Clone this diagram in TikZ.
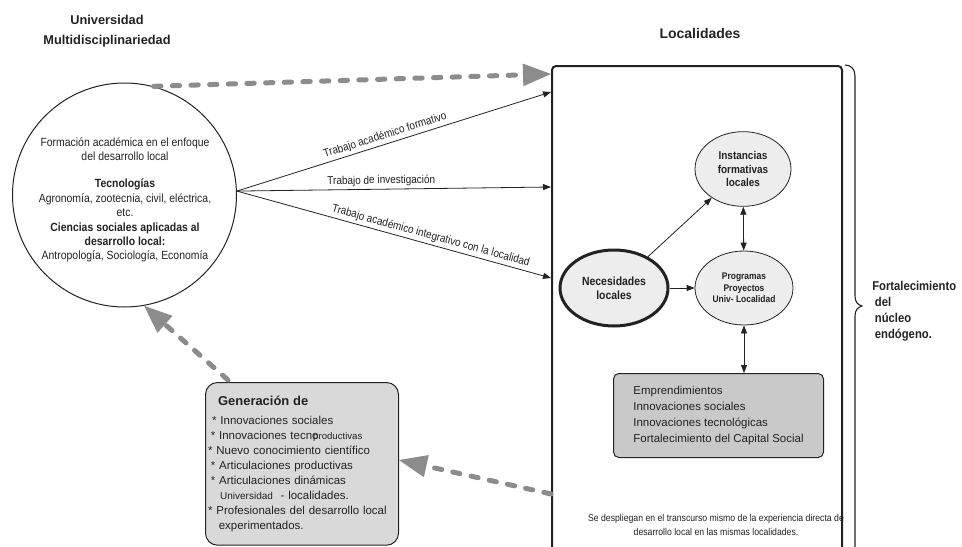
\documentclass[tikz,border=0pt]{standalone}
\usepackage{fontspec}
\setmainfont{Liberation Sans}
\newfontfamily\narrowsf[FakeStretch=0.88]{Liberation Sans}
\usetikzlibrary{arrows.meta,shapes.geometric,calc}
\definecolor{ink}{HTML}{222222}
\definecolor{dashgray}{HTML}{8C8C8C}
\definecolor{panelgray}{HTML}{C9C9C9}
\definecolor{softgray}{HTML}{D9D9D9}
\definecolor{bubble}{HTML}{EDEDED}
\newcommand{\fs}[2]{\fontsize{#1}{#2}\selectfont}

\begin{document}
\begin{tikzpicture}[x=0.75pt,y=-0.75pt,
  every node/.style={text=ink, inner sep=0pt},
  bigdash/.style={draw=dashgray, line width=3.75pt, line cap=round,
    dash pattern=on 5.5pt off 8.5pt,
    -{Triangle[length=21pt,width=17pt,line width=0pt,fill=dashgray]}},
  thinarrow/.style={draw=ink, line width=0.6pt, -{Triangle[length=6pt,width=4.5pt]}},
  twoway/.style={draw=ink, line width=0.6pt,
    {Triangle[length=6pt,width=4.5pt]}-{Triangle[length=6pt,width=4.5pt]}},
  bubblenode/.style={ellipse, draw=ink, fill=bubble, line width=0.6pt, align=center},
  edgelabel/.style={sloped, above=2pt, font=\narrowsf\fs{8.5}{10}},
]
\useasboundingbox (0,0) rectangle (962,546);

% titles
\node (titU) at (107,31) [align=center, font=\bfseries\fs{9.6}{15}] {Universidad\\Multidisciplinariedad};
\node (titL) at (700,33) [font=\bfseries\fs{10.5}{12}] {Localidades};

% university circle
\node (univ) at (124.5,195) [circle, draw=ink, line width=0.75pt, minimum size=168pt] {};
\node (univtxt) at (125,200) [align=center, font=\narrowsf\fs{8.9}{10.8}]
  {Formación académica en el enfoque\\ del desarrollo local\\[9.5pt]
   \textbf{Tecnologías}\\ Agronomía, zootecnia, civil, eléctrica,\\ etc.\\
   \textbf{Ciencias sociales aplicadas al}\\ \textbf{desarrollo local:}\\
   Antropología, Sociología, Economía};

% localities frame (runs past the lower edge)
\node (loc) at (551,65) [anchor=north west, draw=ink, line width=1.5pt, rounded corners=3pt,
  minimum width=217.5pt, minimum height=375pt] {};

% work flows from the university to the localities
\draw[thinarrow] (univ.2) -- ($(loc.north west)+(0,27)$)
  node[edgelabel, pos=0.48] {Trabajo académico formativo};
\draw[thinarrow] (univ.2) -- ($(loc.north west)+(0,122)$)
  node[edgelabel, pos=0.46] {Trabajo de investigación};
\draw[thinarrow] (univ.2) -- ($(loc.north west)+(0,213)$)
  node[edgelabel, pos=0.61] {Trabajo académico integrativo con la localidad};

% local nodes
\node (inst) at (743,169) [bubblenode, minimum width=72pt, minimum height=56pt,
  font=\narrowsf\bfseries\fs{8.5}{10.3}] {Instancias\\formativas\\locales};
\node (prog) at (744,288) [bubblenode, minimum width=73.5pt, minimum height=55.5pt,
  font=\narrowsf\bfseries\fs{7.2}{8.6}] {Programas\\Proyectos\\Univ- Localidad};
\node (nec) at (614,288) [bubblenode, line width=2.25pt, minimum width=81pt, minimum height=57pt,
  font=\narrowsf\bfseries\fs{8.9}{10.3}] {Necesidades\\locales};

\node (eff) at (613,373) [anchor=north west, draw=ink, line width=0.75pt, fill=panelgray,
  rounded corners=4pt, minimum width=157.5pt, minimum height=63pt,
  align=left, font=\fs{8.6}{12}]
  {Emprendimientos\\ Innovaciones sociales\\ Innovaciones tecnológicas\\ Fortalecimiento del Capital Social};

\draw[thinarrow] (nec) -- (inst);
\draw[thinarrow] (nec) -- (prog);
\draw[twoway] (inst) -- (prog);
\draw[twoway] (prog.south) -- (prog.south |- eff.north);

\node (note) at (716,525) [align=center, font=\narrowsf\fs{7.4}{10.5}]
  {Se despliegan en el transcurso mismo de la experiencia directa de\\
   desarrollo local en las mismas localidades.};

% results box
\node (gen) at (205,382) [anchor=north west, draw=ink, line width=0.75pt, fill=softgray,
  rounded corners=9pt, minimum height=122pt, text width=140.75pt, inner xsep=2pt,
  align=left, font=\fs{8.6}{11.25}]
  {\hspace*{7.5pt}{\bfseries\fs{9.7}{11.25}Generación de}\\[3.5pt]
   \hspace*{3pt}{*} Innovaciones sociales\\
   \hspace*{2pt}{*} Innovaciones tecno\hspace{-4pt}{\fs{7.2}{11.25}productivas}\\
   {*} Nuevo conocimiento científico\\
   \hspace*{2pt}{*} Articulaciones productivas\\
   \hspace*{2pt}{*} Articulaciones dinámicas\\
   \hspace*{9pt}{\fs{7.5}{11.25}Universidad} \ - localidades.\\
   {*} Profesionales del desarrollo local\\
   \hspace*{8pt}experimentados.};

% feedback loops
\draw[bigdash] (univ.75) -- ($(loc.north west)+(0,9)$);
\draw[bigdash] ($(gen.north west)+(23,-2)$) -- (univ.-80);
\draw[bigdash] ($(loc.north west)+(0,429)$) -- ($(gen.north east)+(0,78)$);

% brace and its label
\draw[ink, line width=0.8pt] (845,65) .. controls (851,65) and (855,69) .. (855,76)
  -- (855,296) .. controls (855,302) and (858,305) .. (862,306)
  .. controls (858,307) and (855,310) .. (855,316) -- (855,560);
\node (fort) at (872,281) [anchor=north west, align=left, font=\narrowsf\bfseries\fs{9.6}{12}]
  {Fortalecimiento\\ \hspace*{2pt}del\\ \hspace*{2pt}núcleo\\ \hspace*{2pt}endógeno.};
\end{tikzpicture}
\end{document}
